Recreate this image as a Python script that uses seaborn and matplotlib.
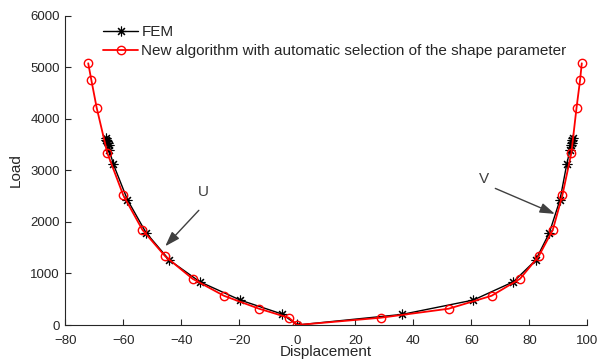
import matplotlib
matplotlib.use("Agg")
import matplotlib.pyplot as plt
import seaborn as sns
import pandas as pd

# ---- data ----
fem_disp = [-66.0, -65.8, -65.6, -65.3, -65.0, -64.8, -63.4, -58.6, -52.2, -44.1, -33.6, -19.7, -5.3, 0.0,
            36.2, 60.7, 74.5, 82.2, 86.9, 90.6, 92.9, 94.0, 94.3, 94.6, 94.8, 95.0]
fem_load = [3620, 3590, 3560, 3530, 3490, 3387, 3116, 2432, 1794, 1258, 838, 484, 213, 0,
            206, 484, 838, 1258, 1787, 2432, 3116, 3387, 3490, 3540, 3580, 3620]

new_disp = [-72.1, -71.0, -69.2, -65.5, -60.0, -53.4, -45.5, -36.1, -25.3, -13.2, -2.9, 0.0,
            28.8, 52.2, 67.0, 76.8, 83.2, 88.1, 91.4, 94.5, 96.3, 97.5, 98.1]
new_load = [5077, 4747, 4219, 3335, 2516, 1845, 1330, 896, 567, 316, 141, 0,
            141, 316, 567, 896, 1330, 1845, 2516, 3335, 4219, 4747, 5077]

x_ticks = [-80, -60, -40, -20, 0, 20, 40, 60, 80, 100]
y_ticks = [0, 1000, 2000, 3000, 4000, 5000, 6000]

fem_label = "FEM"
new_label = "New algorithm with automatic selection of the shape parameter"

fem = pd.DataFrame({"Displacement": fem_disp, "Load": fem_load})
new = pd.DataFrame({"Displacement": new_disp, "Load": new_load})

sns.set_style("ticks")
plt.rcParams["font.family"] = ["Liberation Sans", "DejaVu Sans"]

fig = plt.figure(figsize=(5.98, 3.63), dpi=100)
ax = fig.add_axes([65.3 / 598, 1 - 325 / 363, 522 / 598, (325 - 15.7) / 363])

sns.lineplot(data=fem, x="Displacement", y="Load", sort=False, estimator=None, ax=ax,
             color="black", lw=1.0, marker=(8, 2, 0), markersize=7, mec="black", mew=0.8,
             label=fem_label)
sns.lineplot(data=new, x="Displacement", y="Load", sort=False, estimator=None, ax=ax,
             color="red", lw=1.3, marker="o", markersize=6, mfc="none", mec="red", mew=1.0,
             label=new_label)

ax.set_xlim(-80, 100)
ax.set_ylim(0, 6000)
ax.set_xticks(x_ticks)
ax.set_yticks(y_ticks)
ax.tick_params(direction="in", length=4, width=0.8, labelsize=9.5, colors="#262626", pad=4)
ax.tick_params(axis="x", pad=7)
for s in ["top", "right"]:
    ax.spines[s].set_visible(False)
for s in ["left", "bottom"]:
    ax.spines[s].set_color("#262626")
    ax.spines[s].set_linewidth(0.8)

ax.set_xlabel("Displacement", fontsize=11, labelpad=-1)
ax.set_ylabel("Load", fontsize=11, labelpad=5)

arrow_kw = dict(arrowstyle="-|>,head_length=0.9,head_width=0.3", color="#404040", lw=1.0)
ax.annotate("", xy=(-46.2, 1488), xytext=(-33.3, 2264), arrowprops=arrow_kw)
ax.annotate("", xy=(89.7, 2134), xytext=(67.4, 2671), arrowprops=arrow_kw)
ax.text(-32.3, 2583, "U", fontsize=11, color="#404040", ha="center", va="center")
ax.text(64.4, 2826, "V", fontsize=11, color="#404040", ha="center", va="center")

leg = ax.legend(loc="upper left", bbox_to_anchor=(0.055, 1.0), frameon=False, fontsize=11,
                handlelength=2.3, handletextpad=0.2, labelspacing=0.35, borderaxespad=0.2)

fig.savefig("out.png", dpi=100)
